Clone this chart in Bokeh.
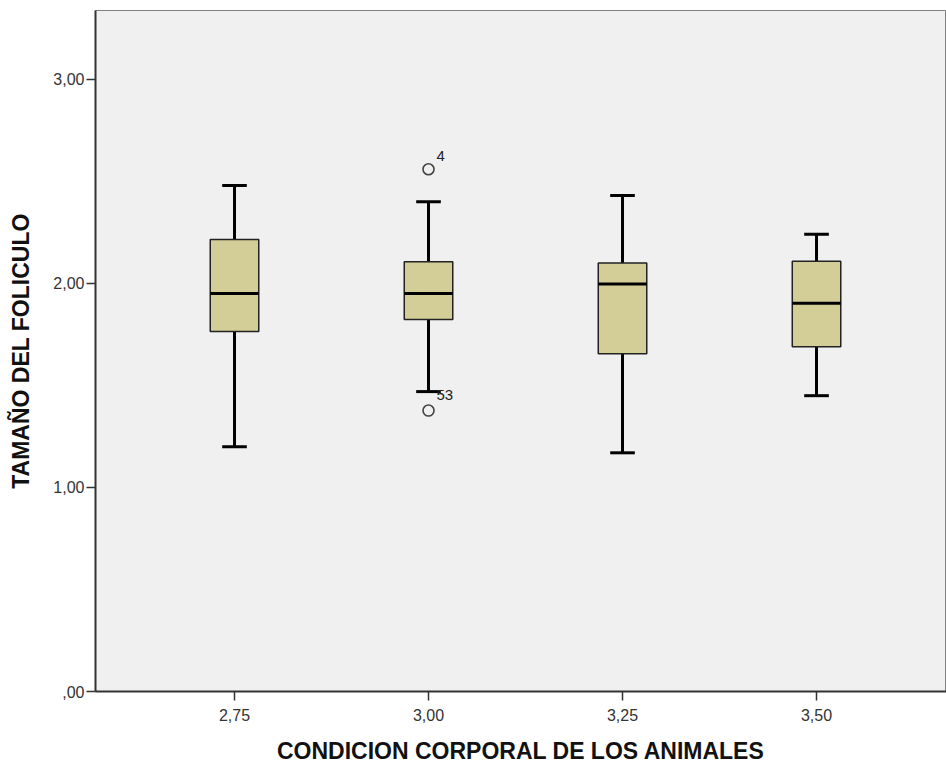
from bokeh.plotting import figure
from bokeh.models import Range1d, FixedTicker, ColumnDataSource
from bokeh.core.properties import value
from bokeh.embed import file_html
from bokeh.resources import INLINE

# ---- data ----
categories = ["2,75", "3,00", "3,25", "3,50"]
positions = [1, 2, 3, 4]
whisker_low = [1.20, 1.47, 1.17, 1.45]
q1 = [1.765, 1.824, 1.655, 1.690]
median = [1.951, 1.951, 1.998, 1.903]
q3 = [2.216, 2.106, 2.100, 2.109]
whisker_high = [2.48, 2.40, 2.431, 2.241]
outlier_x = [2, 2]
outlier_y = [2.56, 1.377]
outlier_labels = ["4", "53"]
outlier_label_dy = [-13, -16]
y_ticks = [0, 1, 2, 3]
y_tick_labels = [",00", "1,00", "2,00", "3,00"]

FONT = "Liberation Sans"
BOX_FILL = "#D3CE98"
BG = "#F0F0F0"

p = figure(width=946, height=763, output_backend="svg", toolbar_location=None,
           x_range=Range1d(0.2835, 4.670), y_range=Range1d(0, 3.338),
           min_border_left=95, min_border_top=10, min_border_right=0, min_border_bottom=72)
p.frame_width = 851
p.frame_height = 681
p.background_fill_color = BG
p.border_fill_color = "white"
p.grid.visible = False
p.outline_line_color = "#808080"
p.outline_line_width = 1

src = ColumnDataSource(dict(x=positions, lo=whisker_low, q1=q1, med=median, q3=q3, hi=whisker_high))

cap_w = 0.127
box_w = 0.25
# whiskers
p.segment(x0="x", y0="lo", x1="x", y1="q1", source=src, line_color="black", line_width=3)
p.segment(x0="x", y0="q3", x1="x", y1="hi", source=src, line_color="black", line_width=3)
# caps
capsrc = ColumnDataSource(dict(x0=[x - cap_w / 2 for x in positions], x1=[x + cap_w / 2 for x in positions],
                               lo=whisker_low, hi=whisker_high))
p.segment(x0="x0", y0="lo", x1="x1", y1="lo", source=capsrc, line_color="black", line_width=3)
p.segment(x0="x0", y0="hi", x1="x1", y1="hi", source=capsrc, line_color="black", line_width=3)
# boxes
p.vbar(x="x", width=box_w, bottom="q1", top="q3", source=src, fill_color=BOX_FILL,
       line_color="#222222", line_width=1.5)
# medians
medsrc = ColumnDataSource(dict(x0=[x - box_w / 2 for x in positions], x1=[x + box_w / 2 for x in positions],
                               med=median))
p.segment(x0="x0", y0="med", x1="x1", y1="med", source=medsrc, line_color="black", line_width=3)

# outliers
osrc = ColumnDataSource(dict(x=outlier_x, y=outlier_y, t=outlier_labels, dy=outlier_label_dy))
p.scatter(x="x", y="y", source=osrc, marker="circle", size=11, fill_color=BG,
          line_color="#444444", line_width=1.6)
p.text(x="x", y="y", text="t", source=osrc, x_offset=8, y_offset="dy",
       text_font=value(FONT), text_font_size="15px", text_color="#222222",
       text_baseline="middle", text_align="left")

# axes
p.xaxis.ticker = FixedTicker(ticks=positions)
p.xaxis.major_label_overrides = {pos: lab for pos, lab in zip(positions, categories)}
p.yaxis.ticker = FixedTicker(ticks=y_ticks)
p.yaxis.major_label_overrides = {t: lab for t, lab in zip(y_ticks, y_tick_labels)}
for ax in (p.xaxis[0], p.yaxis[0]):
    ax.axis_line_color = "#333333"
    ax.axis_line_width = 2
    ax.major_tick_line_color = "#333333"
    ax.major_tick_line_width = 1.5
    ax.major_tick_out = 9
    ax.major_tick_in = 0
    ax.minor_tick_line_color = None
    ax.major_label_text_font = FONT
    ax.major_label_text_font_size = "16px"
    ax.major_label_text_color = "#333333"
    ax.axis_label_text_font = FONT
    ax.axis_label_text_font_size = "23px"
    ax.axis_label_text_font_style = "bold"
    ax.axis_label_text_color = "#111111"
p.xaxis.axis_label = "CONDICION CORPORAL DE LOS ANIMALES"
p.yaxis.axis_label = "TAMAÑO DEL FOLICULO"
p.xaxis.major_label_standoff = 8
p.xaxis.axis_label_standoff = 14
p.yaxis.major_label_standoff = 2
p.yaxis.axis_label_standoff = 16

open("out.html", "w").write(file_html(p, INLINE))
